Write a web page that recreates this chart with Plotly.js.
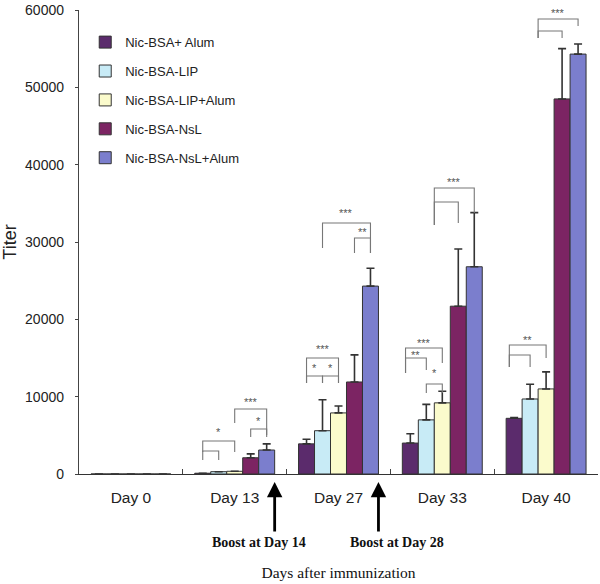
<!DOCTYPE html>
<html>
<head>
<meta charset="utf-8">
<script src="https://cdn.plot.ly/plotly-3.0.1.min.js"></script>
<style>html,body{margin:0;padding:0;background:#fff;}#chart{width:600px;height:584px;}</style>
</head>
<body>
<div id="chart"></div>
<script>
// ---- data ----
const days = ['Day 0', 'Day 13', 'Day 27', 'Day 33', 'Day 40'];
const seriesNames = ['Nic-BSA+ Alum', 'Nic-BSA-LIP', 'Nic-BSA-LIP+Alum', 'Nic-BSA-NsL', 'Nic-BSA-NsL+Alum'];
const alum       = [0, 100, 3900, 4000, 7200];
const alumErr    = [0, 0, 600, 1200, 100];
const lip        = [0, 300, 5600, 7000, 9700];
const lipErr     = [0, 0, 4000, 2000, 1900];
const lipAlum    = [0, 350, 7900, 9200, 11000];
const lipAlumErr = [0, 0, 900, 1500, 2200];
const nsl        = [0, 2100, 11900, 21700, 48500];
const nslErr     = [0, 500, 3500, 7400, 6500];
const nslAlum    = [0, 3100, 24300, 26800, 54300];
const nslAlumErr = [0, 800, 2300, 7000, 1300];
const yTicks = [0, 10000, 20000, 30000, 40000, 50000, 60000];

// significance brackets: [dayIndex, fromBar, toBar, topTiter, leftLegTiter, rightLegTiter, label, labelTiter]
const brackets = [
  [1, 0, 2, 4270, 2850, 2850, '*', 5430],
  [1, 0, 1, 2970, 1810, 1810, '', 0],
  [1, 2, 4, 8400, 6600, 5040, '***', 9310],
  [1, 3, 4, 5820, 4780, 4780, '*', 6850],
  [2, 1, 4, 32460, 29220, 28580, '***', 33750],
  [2, 3, 4, 30520, 28580, 28580, '**', 31290],
  [2, 0, 2, 15000, 11770, 11770, '***', 16160],
  [2, 0, 1, 12670, 11770, 11770, '*', 13710],
  [2, 1, 2, 12670, 11770, 11770, '*', 13710],
  [3, 1.5, 4, 36980, 32200, 33750, '***', 37760],
  [3, 1.5, 3, 35170, 32200, 32450, '', 0],
  [3, -0.3, 2, 16290, 13060, 14350, '***', 16940],
  [3, -0.3, 1, 15000, 13060, 13450, '**', 15390],
  [3, 1, 2, 11640, 10470, 10470, '*', 13060],
  [4, 1.5, 4, 58830, 56370, 57930, '***', 59610],
  [4, 1.5, 3, 57280, 56370, 56370, '', 0],
  [4, -0.3, 2, 16680, 13840, 15000, '**', 17330],
  [4, -0.3, 1, 15390, 13840, 13840, '', 0]
];
// boosts: [dayIndex, label]
const boosts = [[1, 'Boost at Day 14'], [2, 'Boost at Day 28']];

// ---- style ----
const colors = ['#5b2b6c', '#c8ebf6', '#fbfbcc', '#7c2463', '#7b7ecd'];
const values = [alum, lip, lipAlum, nsl, nslAlum];
const errs = [alumErr, lipErr, lipAlumErr, nslErr, nslAlumErr];
const bargap = 0.23;
const w = (1 - bargap) / 5;
const sans = 'Liberation Sans, Arial, sans-serif';
const serif = 'Liberation Serif, Times New Roman, serif';

const traces = seriesNames.map((name, i) => ({
  type: 'bar',
  name: name,
  x: days,
  y: values[i],
  legendgroup: 'g' + i,
  marker: {color: colors[i], line: {color: '#333', width: 1}},
  error_y: {type: 'data', symmetric: false, array: errs[i], arrayminus: days.map(() => 0),
            color: '#333', thickness: 1.6, width: 4},
  hoverinfo: 'x+y+name'
}));

const barX = (d, b) => d + (b - 2) * w;
const shapes = [];
const annotations = [];
brackets.forEach(br => {
  const [d, b0, b1, top, legL, legR, lab, labY] = br;
  const x0 = barX(d, b0), x1 = barX(d, b1);
  shapes.push({type: 'path', xref: 'x', yref: 'y',
    path: `M${x0},${legL} L${x0},${top} L${x1},${top} L${x1},${legR}`,
    line: {color: '#777', width: 1.1}});
  if (lab) {
    annotations.push({xref: 'x', yref: 'y', x: (x0 + x1) / 2, y: labY, text: lab, showarrow: false,
      font: {family: sans, size: 11, color: '#555'}, yanchor: 'middle'});
  }
});
boosts.forEach((b, k) => {
  const xa = b[0] + 2.5 * w;
  annotations.push({xref: 'x', yref: 'paper', x: xa, y: -0.017, text: '', showarrow: true,
    ax: 0, ay: 51, arrowhead: 2, arrowsize: 1.1, arrowwidth: 2.8, arrowcolor: '#000', standoff: 0, startstandoff: 0});
  annotations.push({xref: 'x', yref: 'paper', x: xa, xshift: k === 0 ? -16 : 19, y: -0.1466, yanchor: 'middle',
    text: '<b>' + b[1] + '</b>', showarrow: false, font: {family: serif, size: 14, color: '#111'}});
});

const layout = {
  width: 600, height: 584,
  margin: {l: 79, r: 2, t: 10, b: 110},
  paper_bgcolor: '#fff', plot_bgcolor: '#fff',
  barmode: 'group', bargap: bargap, bargroupgap: 0,
  showlegend: true,
  legend: {x: 0.012, y: 0.963, xanchor: 'left', yanchor: 'top', bgcolor: 'rgba(0,0,0,0)',
           font: {family: sans, size: 13, color: '#222'}, tracegroupgap: 9, itemwidth: 30, traceorder: 'grouped'},
  xaxis: {type: 'category', range: [-0.5, 4.5], showline: true, linecolor: '#333', linewidth: 1.2,
          ticks: 'inside', tickson: 'boundaries', ticklen: 5, tickcolor: '#444', showgrid: false,
          tickfont: {family: sans, size: 15.5, color: '#222'}, ticklabelstandoff: 9, automargin: false,
          title: {text: 'Days after immunization', font: {family: serif, size: 15.5, color: '#111'}, standoff: 62}},
  yaxis: {range: [0, 60000], tickvals: yTicks, tickformat: 'd', showline: true, linecolor: '#444', linewidth: 1.2,
          ticks: 'outside', ticklen: 3, tickcolor: '#444', showgrid: false, zeroline: false,
          tickfont: {family: sans, size: 14, color: '#222'}, ticklabelstandoff: 8, automargin: false,
          title: {text: 'Titer', font: {family: sans, size: 18, color: '#222'}, standoff: 10}},
  shapes: shapes,
  annotations: annotations
};

Plotly.newPlot('chart', traces, layout, {displayModeBar: false, staticPlot: true});
</script>
</body>
</html>
